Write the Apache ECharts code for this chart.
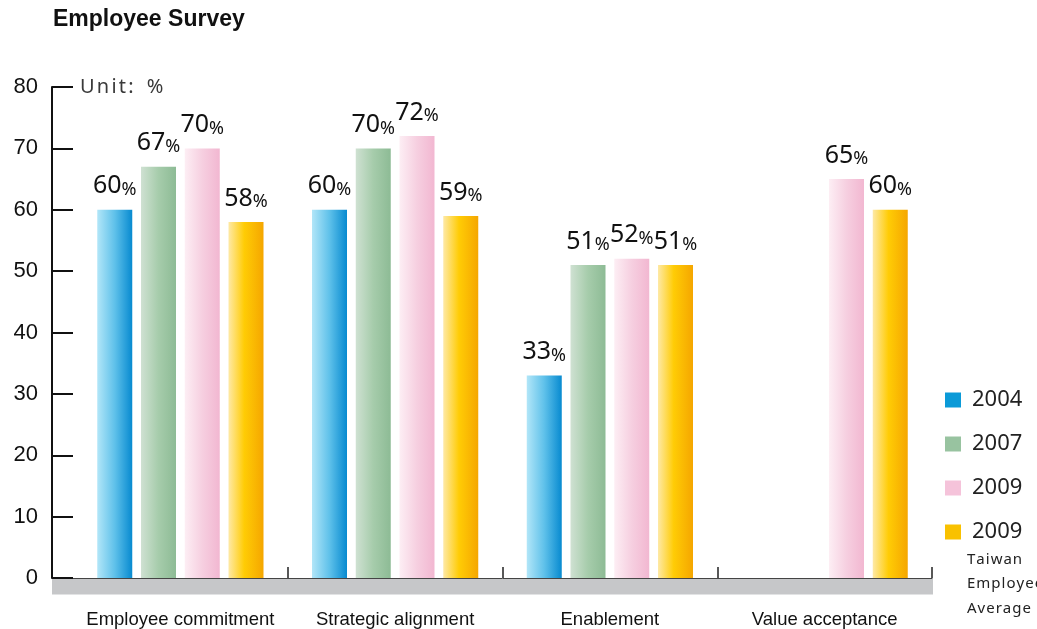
<!DOCTYPE html>
<html>
<head>
<meta charset="utf-8">
<script src="https://cdn.jsdelivr.net/npm/echarts@6/dist/echarts.min.js"></script>
<style>
  html, body { margin: 0; padding: 0; background: #fff; }
  #chart { width: 1037px; height: 629px; }
</style>
</head>
<body>
<div id="chart"></div>
<script>
// Survey results, percent of employees
const categories = ['Employee commitment', 'Strategic alignment', 'Enablement', 'Value acceptance'];
const seriesNames = ['2004', '2007', '2009', '2009 Taiwan Employee Average'];
const values2004 = [60, 60, 33, null];
const values2007 = [67, 70, 51, null];
const values2009 = [70, 72, 52, 65];
const values2009Taiwan = [58, 59, 51, 60];
const yMin = 0, yMax = 80, yStep = 10;
const unitText = 'Unit:%';
const legendNote = 'Taiwan\nEmployee\nAverage';

// Layout
const GRID_LEFT = 73, GRID_RIGHT = 105, GRID_TOP = 87, GRID_BOTTOM = 51;
const Y_AXIS_OFFSET = 21;
const BAND_HEIGHT = 16;

const legendColors = ['#0b9ad8', '#98c3a0', '#f5c3da', '#f9c100'];

function hGrad(stops) {
  return new echarts.graphic.LinearGradient(0, 0, 1, 0,
    stops.map(s => ({ offset: s[0], color: s[1] })));
}
const barFills = [
  hGrad([[0, '#b2e6f8'], [0.5, '#5fc1ea'], [1, '#078ad0']]),
  hGrad([[0, '#cfe1d2'], [0.5, '#a6ccab'], [1, '#8dbb95']]),
  hGrad([[0, '#fdeef4'], [0.5, '#f6cfe0'], [1, '#f2b7d1']]),
  hGrad([[0, '#fee9a6'], [0.45, '#ffcc05'], [1, '#f5a600']])
];

// Letter-spaced text: every character becomes its own rich token
function spaced(str, key, gapKey) {
  return str.split('\n').map(line =>
    line.split('').map(ch => ch === ':' ? '{' + key + '|:}{' + gapKey + '|}' : '{' + key + '|' + ch + '}').join('')
  ).join('\n');
}

const valueLabel = {
  show: true,
  position: 'top',
  distance: 11,
  formatter: p => (p.value == null ? '' : '{n|' + p.value + '}{p|%}'),
  rich: {
    n: { fontFamily: 'Noto Sans', fontSize: 25, color: '#111', verticalAlign: 'bottom' },
    p: { fontFamily: 'Noto Sans', fontSize: 18, color: '#111', verticalAlign: 'bottom' }
  }
};

const seriesData = [values2004, values2007, values2009, values2009Taiwan];

const chart = echarts.init(document.getElementById('chart'), null, { renderer: 'canvas' });

chart.setOption({
  animation: false,
  backgroundColor: '#ffffff',
  title: {
    text: 'Employee Survey',
    left: 53,
    top: 8,
    padding: 0,
    textStyle: { fontFamily: 'Liberation Sans', fontSize: 23, fontWeight: 'bold', color: '#111' }
  },
  grid: { left: GRID_LEFT, right: GRID_RIGHT, top: GRID_TOP, bottom: GRID_BOTTOM, containLabel: false },
  legend: {
    orient: 'vertical',
    left: 940,
    top: 384,
    icon: 'rect',
    itemWidth: 16,
    itemHeight: 15,
    itemGap: 22,
    selectedMode: false,
    formatter: name => name.split(' ')[0],
    textStyle: { fontFamily: 'Noto Sans', fontSize: 22, color: '#222', lineHeight: 20, padding: [0, 0, 0, 6] },
    data: seriesNames.map((n, i) => ({ name: n, itemStyle: { color: legendColors[i] } }))
  },
  xAxis: {
    type: 'category',
    data: categories,
    boundaryGap: true,
    axisLine: { show: true, lineStyle: { color: '#444', width: 1 } },
    axisTick: {
      show: true,
      inside: true,
      length: 11,
      interval: (idx) => idx !== 0,
      lineStyle: { color: '#222', width: 1.5 }
    },
    axisLabel: {
      interval: 0,
      margin: 32,
      fontFamily: 'Liberation Sans',
      fontSize: 18.5,
      color: '#111'
    }
  },
  yAxis: {
    type: 'value',
    min: yMin,
    max: yMax,
    interval: yStep,
    offset: Y_AXIS_OFFSET,
    name: spaced(unitText, 'c', 'g'),
    nameLocation: 'end',
    nameGap: 0,
    nameTextStyle: {
      align: 'left',
      verticalAlign: 'middle',
      padding: [0, 0, 0, 28],
      rich: {
        c: { fontFamily: 'Noto Sans', fontSize: 20, color: '#3a3a3a', padding: [0, 2.2, 0, 0] },
        g: { width: 11 }
      }
    },
    axisLine: { show: true, lineStyle: { color: '#111', width: 2 } },
    axisTick: { show: true, inside: true, length: Y_AXIS_OFFSET, lineStyle: { color: '#111', width: 2 } },
    splitLine: { show: false },
    axisLabel: { margin: 14, fontFamily: 'Liberation Sans', fontSize: 22, color: '#111' }
  },
  series: seriesNames.map((name, i) => ({
    name: name,
    type: 'bar',
    data: seriesData[i],
    barWidth: 35,
    barGap: '25%',
    itemStyle: { color: barFills[i] },
    label: valueLabel
  }))
});

// Grey base band under the category axis, and the note under the last legend entry
const baseY = chart.convertToPixel({ yAxisIndex: 0 }, 0);
const plotRight = chart.getWidth() - GRID_RIGHT;
chart.setOption({
  graphic: [
    {
      type: 'rect',
      z: 0,
      shape: { x: GRID_LEFT - Y_AXIS_OFFSET, y: baseY + 0.5, width: plotRight - GRID_LEFT + Y_AXIS_OFFSET + 1, height: BAND_HEIGHT },
      style: { fill: '#c6c7c9' }
    },
    {
      type: 'text',
      left: 967,
      top: 552,
      style: {
        text: spaced(legendNote, 's', 'g'),
        rich: {
          s: { fontFamily: 'Noto Sans', fontSize: 15, lineHeight: 24.5, fill: '#222', padding: [0, 1, 0, 0] },
          g: { width: 4 }
        }
      }
    }
  ]
});
</script>
</body>
</html>
